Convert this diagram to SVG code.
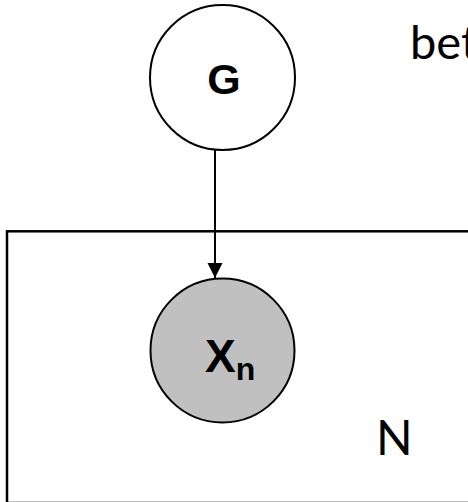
<svg xmlns="http://www.w3.org/2000/svg" width="468" height="502" viewBox="0 0 468 502">
  <style>
    .node { stroke: #000; stroke-width: 2; }
    .latent { fill: #fff; }
    .observed { fill: #c0c0c0; }
    .var { font-family: "Liberation Sans", Arial, sans-serif; font-weight: bold; fill: #000; }
    .label { font-family: Lato, "Open Sans", sans-serif; fill: #000; }
    .edge { stroke: #000; stroke-width: 2; fill: none; }
  </style>
  <defs>
    <marker id="arrow" markerUnits="userSpaceOnUse" markerWidth="16" markerHeight="16" refX="15" refY="7.5" orient="auto">
      <path d="M0,0 L15,7.5 L0,15 Z" fill="#000"/>
    </marker>
  </defs>

  <rect width="468" height="502" fill="#fff"/>

  <!-- plate over the N observations -->
  <g id="plate">
    <rect x="7" y="231.3" width="480" height="271.7" fill="none" stroke="#000" stroke-width="2.5"/>
    <text class="label" x="376" y="455" font-size="48">N</text>
  </g>

  <!-- header text, running off the right edge -->
  <text class="label" x="410" y="59" font-size="47">bet</text>

  <!-- connectors -->
  <g id="edges">
    <line class="edge" x1="215" y1="150" x2="215" y2="278" marker-end="url(#arrow)"/>
  </g>

  <!-- latent variable G -->
  <g id="node-G">
    <circle class="node latent" cx="222.5" cy="77.5" r="72.5"/>
    <text class="var" x="224" y="94" font-size="43" text-anchor="middle">G</text>
  </g>

  <!-- observed variable X_n -->
  <g id="node-Xn">
    <circle class="node observed" cx="222.5" cy="350.5" r="72"/>
    <text class="var" x="205" y="371.5" font-size="46">X<tspan font-size="32" dy="8.5">n</tspan></text>
  </g>
</svg>
